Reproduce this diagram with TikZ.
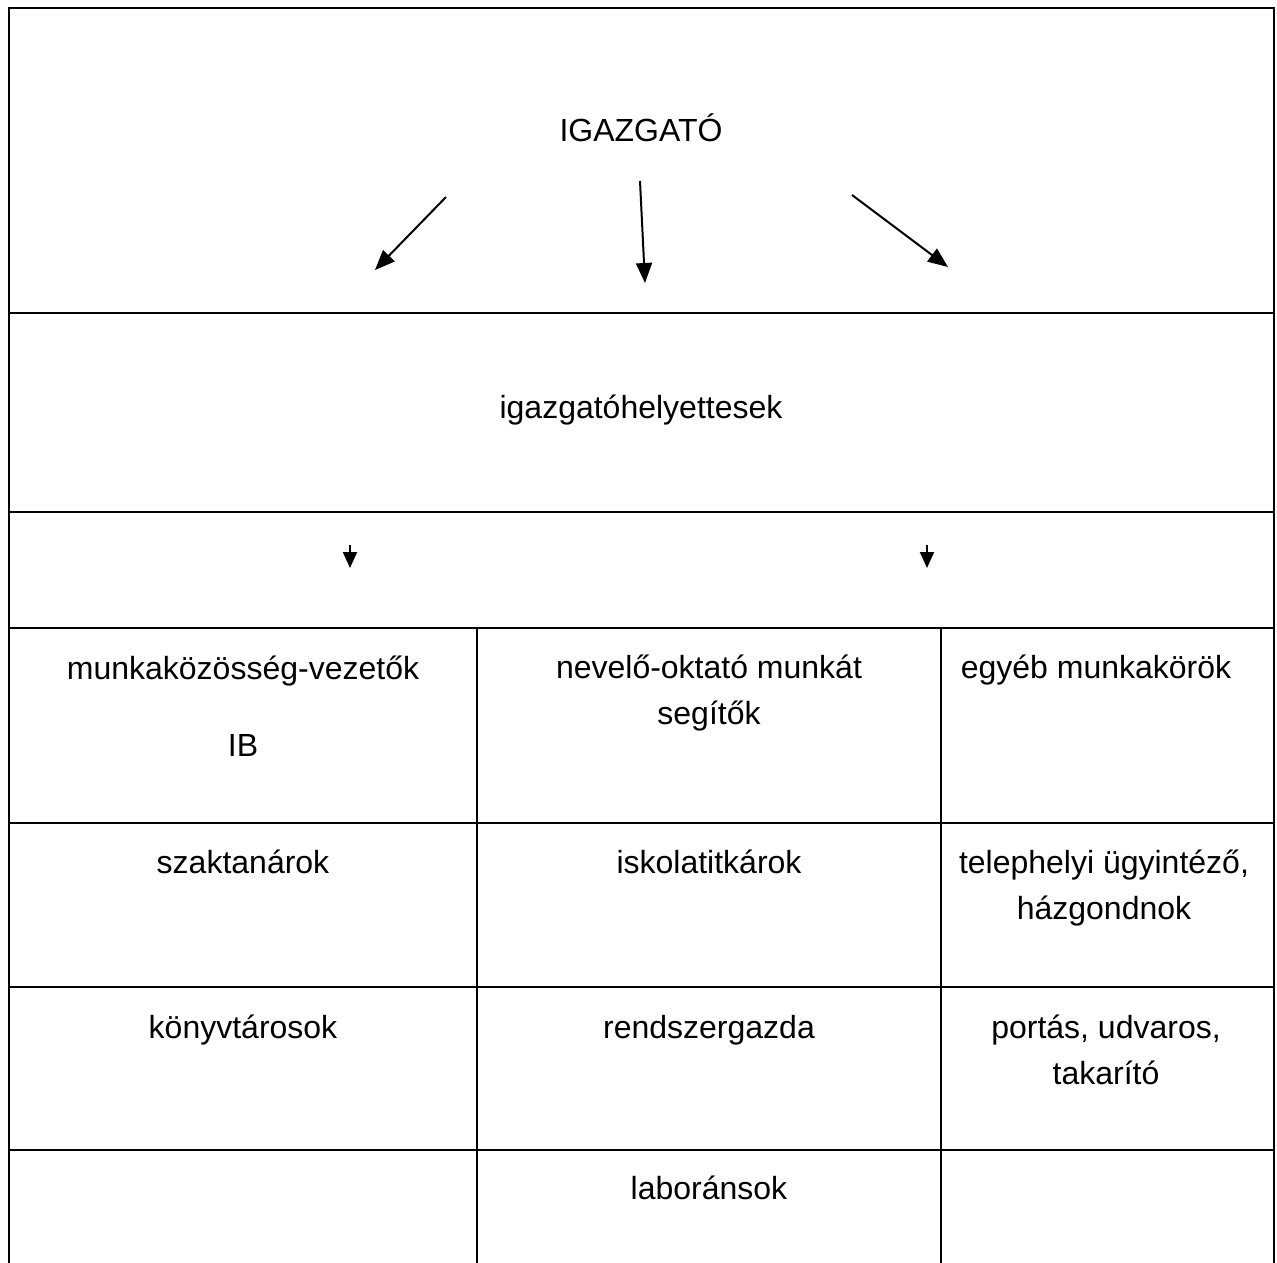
\documentclass[tikz,border=0pt]{standalone}
\usepackage{fontspec}
\setmainfont{Liberation Sans}
\usetikzlibrary{arrows.meta}
\begin{document}
\begin{tikzpicture}[x=1pt,y=-1pt,
  frame/.style={line width=2.6pt,line cap=rect},
  lbl/.style={inner sep=0pt,font=\fontsize{32}{46}\selectfont,align=center},
  bigarrow/.style={line width=2pt,-{Triangle[length=20pt,width=16pt]}},
  smallarrow/.style={line width=2pt,-{Triangle[length=16pt,width=14pt]}}]
\useasboundingbox (0,0) rectangle (1277,1262);
% frame and grid
\draw[frame] (9,1262) -- (9,8) -- (1274,8) -- (1274,1262);
\draw[frame] (9,313) -- (1274,313);
\draw[frame] (9,512) -- (1274,512);
\draw[frame] (9,628) -- (1274,628);
\draw[frame] (9,823) -- (1274,823);
\draw[frame] (9,987) -- (1274,987);
\draw[frame] (9,1150) -- (1274,1150);
\draw[frame] (477,628) -- (477,1262);
\draw[frame] (941,628) -- (941,1262);
% texts
\node[lbl] (igazgato) at (641,128) {IGAZGATÓ};
\node[lbl] (helyettes) at (641,410) {igazgatóhelyettesek};
\node[lbl,anchor=base] (mkv) at (243,679) {munkaközösség-vezetők};
\node[lbl,anchor=base] (ib) at (243,756) {IB};
\node[lbl,anchor=base] (nos) at (709,724) {nevelő-oktató munkát\\segítők};
\node[lbl,anchor=base] (egyeb) at (1096,678) {egyéb munkakörök};
\node[lbl,anchor=base] (szak) at (243,873) {szaktanárok};
\node[lbl,anchor=base] (iskola) at (709,873) {iskolatitkárok};
\node[lbl,anchor=base] (teleph) at (1104,919) {telephelyi ügyintéző,\\házgondnok};
\node[lbl,anchor=base] (konyv) at (243,1038) {könyvtárosok};
\node[lbl,anchor=base] (rendsz) at (709,1038) {rendszergazda};
\node[lbl,anchor=base] (portas) at (1106,1084) {portás, udvaros,\\takarító};
\node[lbl,anchor=base] (labor) at (709,1199) {laboránsok};
% arrows
\coordinate (a1s) at (446,197);
\coordinate (a1e) at (375,270);
\coordinate (a2s) at (640,181);
\coordinate (a2e) at (645,283);
\coordinate (a3s) at (852,195);
\coordinate (a3e) at (948,267);
\draw[bigarrow] (a1s) -- (a1e);
\draw[bigarrow] (a2s) -- (a2e);
\draw[bigarrow] (a3s) -- (a3e);
\coordinate (b1s) at (350,545);
\coordinate (b1e) at (350,568);
\coordinate (b2s) at (927,545);
\coordinate (b2e) at (927,568);
\draw[smallarrow] (b1s) -- (b1e);
\draw[smallarrow] (b2s) -- (b2e);
\end{tikzpicture}
\end{document}
